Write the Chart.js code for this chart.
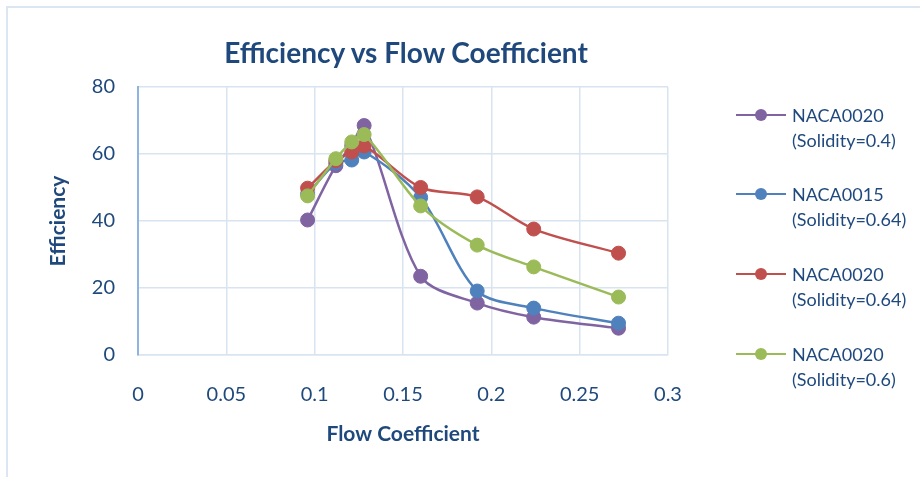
<!DOCTYPE html>
<html>
<head>
<meta charset="utf-8">
<script src="https://cdn.jsdelivr.net/npm/chart.js@4.4.1/dist/chart.umd.min.js"></script>
<style>
  html, body { margin: 0; padding: 0; background: #fff; }
  body { width: 920px; height: 477px; position: relative; overflow: hidden; font-family: Lato, "Open Sans", sans-serif; }
  #frame { position: absolute; left: 6px; top: 6px; width: 940px; height: 500px; border-top: 2px solid #dce6f2; border-left: 2px solid #dce6f2; }
  #wrap { position: absolute; left: 0; top: 0; width: 920px; height: 477px; }
  #title { position: absolute; left: 0; width: 812px; top: 35px; text-align: center; font-weight: bold; font-size: 28px; color: #1f497d; line-height: 34px; }
  #legend { position: absolute; left: 736px; top: 0; }
  .item { position: absolute; left: 0; width: 190px; }
  .line { position: absolute; left: 0; width: 50px; height: 2px; top: -1px; }
  .dot { position: absolute; left: 19px; width: 12px; height: 12px; top: -6px; border-radius: 50%; }
  .txt { position: absolute; left: 56px; top: -12px; font-size: 18px; line-height: 25px; color: #1f497d; white-space: nowrap; }
</style>
</head>
<body>
<div id="frame"></div>
<div id="wrap"><canvas id="c" width="920" height="477"></canvas></div>
<div id="title"></div>
<div id="legend"></div>
<script>
// ---- data ----
const chartTitle = "Efficiency vs Flow Coefficient";
const xAxisTitle = "Flow Coefficient";
const yAxisTitle = "Efficiency";
const flowCoefficient = [0.096, 0.112, 0.121, 0.128, 0.160, 0.192, 0.224, 0.272];
const seriesNames = [
  ["NACA0020", "(Solidity=0.4)"],
  ["NACA0015", "(Solidity=0.64)"],
  ["NACA0020", "(Solidity=0.64)"],
  ["NACA0020", "(Solidity=0.6)"]
];
const naca0020_s04  = [40.3, 56.5, 62.5, 68.5, 23.5, 15.5, 11.3, 8.0];
const naca0015_s064 = [48.0, 57.3, 58.2, 60.6, 47.0, 19.1, 14.0, 9.5];
const naca0020_s064 = [49.8, 58.0, 60.6, 62.4, 50.0, 47.2, 37.6, 30.4];
const naca0020_s06  = [47.5, 58.6, 63.6, 65.8, 44.5, 32.8, 26.3, 17.3];
const xTicks = [0, 0.05, 0.1, 0.15, 0.2, 0.25, 0.3];
const yTicks = [0, 20, 40, 60, 80];

const seriesValues = [naca0020_s04, naca0015_s064, naca0020_s064, naca0020_s06];
const colors = ["#8064a2", "#4f81bd", "#c0504d", "#9bbb59"];
const textColor = "#1f497d";

document.getElementById('title').textContent = chartTitle;

const datasets = seriesValues.map((vals, i) => ({
  label: seriesNames[i].join(' '),
  data: vals.map((v, j) => ({ x: flowCoefficient[j], y: v })),
  borderColor: colors[i],
  backgroundColor: colors[i],
  pointBackgroundColor: colors[i],
  pointBorderColor: colors[i],
  pointRadius: 7,
  pointBorderWidth: 1,
  borderWidth: 2.5,
  tension: 0.3,
  order: 4 - i,
  fill: false
}));

// legend (HTML)
const legendTops = [115, 194, 274, 354];
const legend = document.getElementById('legend');
seriesNames.forEach((nm, i) => {
  const it = document.createElement('div');
  it.className = 'item';
  it.style.top = legendTops[i] + 'px';
  it.innerHTML = '<div class="line" style="background:' + colors[i] + '"></div>' +
    '<div class="dot" style="background:' + colors[i] + '"></div>' +
    '<div class="txt">' + nm[0] + '<br>' + nm[1] + '</div>';
  legend.appendChild(it);
});

new Chart(document.getElementById('c'), {
  type: 'line',
  data: { datasets },
  options: {
    responsive: false,
    animation: false,
    events: [],
    layout: { padding: { left: 0, right: 252, top: 87, bottom: 0 } },
    plugins: { legend: { display: false }, title: { display: false }, tooltip: { enabled: false } },
    scales: {
      x: {
        type: 'linear',
        min: 0, max: 0.3,
        afterFit: s => { s.height = 122; },
        afterBuildTicks: s => { s.ticks = xTicks.map(v => ({ value: v })); },
        ticks: {
          padding: 28,
          color: textColor,
          font: { family: 'Lato', size: 20 },
          callback: v => String(v)
        },
        grid: { color: '#d9e4f1', lineWidth: 1.5, drawTicks: false },
        border: { color: '#d9e4f1', width: 1.5 },
        title: {
          display: true, text: xAxisTitle, color: textColor,
          font: { family: 'Lato', size: 21, weight: 'bold' },
          padding: { top: 0, bottom: 30 }
        }
      },
      y: {
        type: 'linear',
        min: 0, max: 80,
        afterFit: s => { s.width = 138; },
        afterBuildTicks: s => { s.ticks = yTicks.map(v => ({ value: v })); },
        ticks: {
          padding: 23,
          color: textColor,
          font: { family: 'Lato', size: 20 }
        },
        grid: { color: '#d9e4f1', lineWidth: 1.5, drawTicks: false },
        border: { color: '#8eb4e3', width: 2 },
        title: {
          display: true, text: yAxisTitle, color: textColor,
          font: { family: 'Lato', size: 21, weight: 'bold' },
          padding: { top: 46, bottom: 0 }
        }
      }
    }
  }
});
</script>
</body>
</html>
